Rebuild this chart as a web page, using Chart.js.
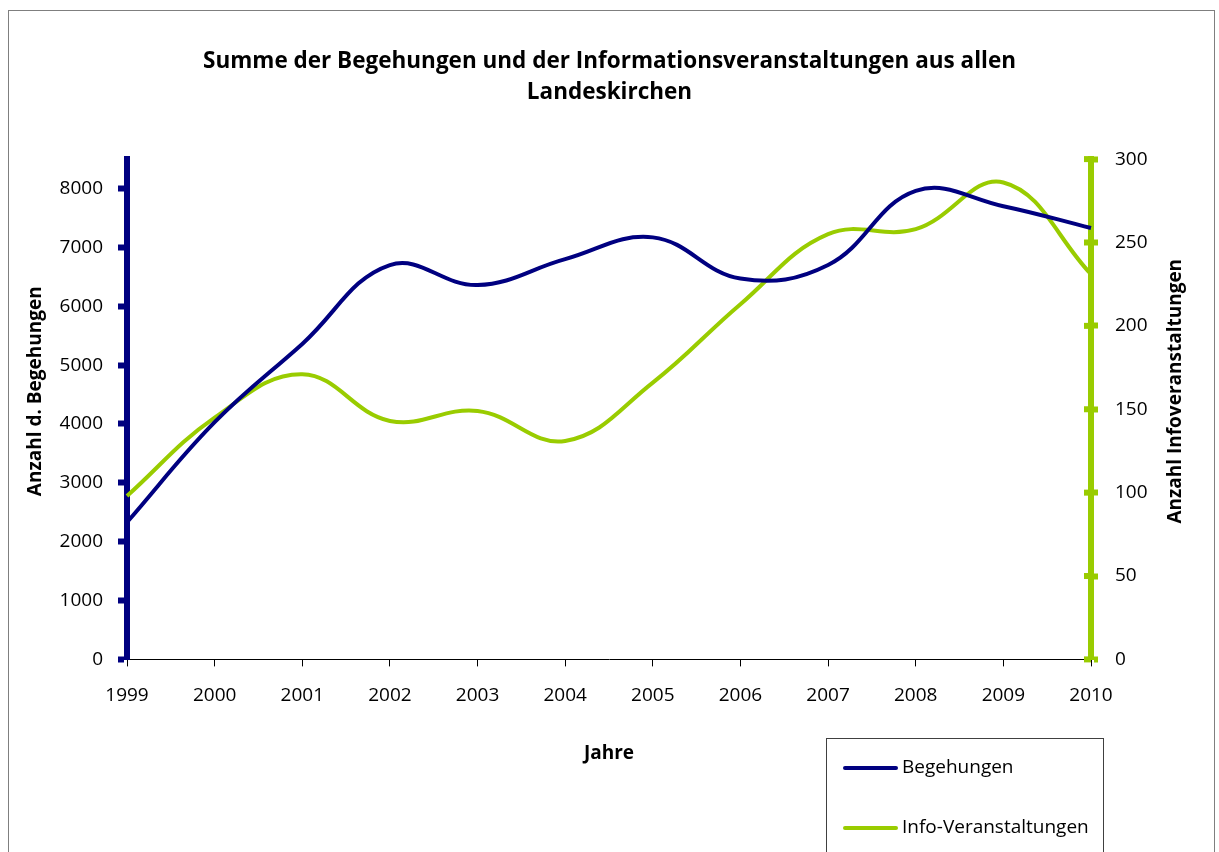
<!DOCTYPE html>
<html>
<head>
<meta charset="utf-8">
<script src="https://cdn.jsdelivr.net/npm/chart.js@4.4.1/dist/chart.umd.min.js"></script>
<style>
    html, body { margin: 0; padding: 0; background: #fff; overflow: hidden; }
    #wrap { position: relative; width: 1219px; height: 852px; }
    #frame { position: absolute; left: 8px; top: 10px; width: 1205px; height: 900px; border: 1px solid #7f7f7f; pointer-events: none; }
</style>
</head>
<body>
<div id="wrap">
    <canvas id="chart" width="1219" height="852"></canvas>
    <div id="frame"></div>
</div>
<script>
// --- Daten ---
const jahre = ['1999', '2000', '2001', '2002', '2003', '2004', '2005', '2006', '2007', '2008', '2009', '2010'];
const begehungen = [2330, 4030, 5360, 6700, 6360, 6800, 7170, 6470, 6700, 7960, 7700, 7330];
const infoVeranstaltungen = [98, 145, 171, 143, 149, 131, 166, 213, 255, 258, 286, 231];
const linksTicks = [0, 1000, 2000, 3000, 4000, 5000, 6000, 7000, 8000];
const rechtsTicks = [0, 50, 100, 150, 200, 250, 300];
const titelLinks = 'Anzahl d. Begehungen';
const titelRechts = 'Anzahl Infoveranstaltungen';

const BLAU = '#000080';
const GRUEN = '#99cc00';
const FONT = 'Open Sans';

// --- Achsentitel (beide von unten nach oben gelesen) ---
const achsenTitel = {
    id: 'achsenTitel',
    afterDraw(chart) {
        const ctx = chart.ctx;
        const mitte = chart.chartArea.top + (chart.chartArea.bottom - chart.chartArea.top) / 2 - 18;
        ctx.save();
        ctx.font = 'bold 19px "' + FONT + '"';
        ctx.fillStyle = '#000';
        ctx.textAlign = 'center';
        ctx.textBaseline = 'middle';
        [[titelLinks, 36], [titelRechts, 1176]].forEach(([txt, x]) => {
            ctx.save();
            ctx.translate(x, mitte);
            ctx.rotate(-Math.PI / 2);
            ctx.fillText(txt, 0, 0);
            ctx.restore();
        });
        ctx.restore();
    }
};

// --- Legende im Kasten unten rechts ---
const boxLegend = {
    id: 'boxLegend',
    afterDraw(chart) {
        const ctx = chart.ctx;
        ctx.save();
        ctx.strokeStyle = '#404040';
        ctx.lineWidth = 1;
        ctx.strokeRect(826.5, 738.5, 277, 140);
        ctx.font = '19px "' + FONT + '"';
        ctx.textBaseline = 'middle';
        ctx.fillStyle = '#000';
        chart.data.datasets.forEach((ds, i) => {
            const y = 768 + i * 60;
            ctx.strokeStyle = ds.borderColor;
            ctx.lineWidth = 4;
            ctx.lineCap = 'round';
            ctx.beginPath();
            ctx.moveTo(845, y);
            ctx.lineTo(896, y);
            ctx.stroke();
            ctx.fillText(ds.label, 902, y);
        });
        ctx.restore();
    }
};

// --- Innere Hälfte der Striche an der rechten Achse ---
const innerTicks = {
    id: 'innerTicks',
    afterDatasetsDraw(chart) {
        const sc = chart.scales.y2;
        const ctx = chart.ctx;
        ctx.save();
        ctx.fillStyle = GRUEN;
        sc.ticks.forEach(t => {
            const y = sc.getPixelForValue(t.value);
            ctx.fillRect(sc.left - 7, y - 3, 7, 6);
        });
        ctx.restore();
    }
};

const ctx = document.getElementById('chart').getContext('2d');
new Chart(ctx, {
    type: 'line',
    data: {
        labels: jahre,
        datasets: [
            { label: 'Begehungen', data: begehungen, yAxisID: 'y', borderColor: BLAU, borderWidth: 4, tension: 0.4, pointRadius: 0, fill: false },
            { label: 'Info-Veranstaltungen', data: infoVeranstaltungen, yAxisID: 'y2', borderColor: GRUEN, borderWidth: 4, tension: 0.4, pointRadius: 0, fill: false }
        ]
    },
    options: {
        responsive: false,
        animation: false,
        layout: { padding: { left: 0, right: 0, top: 0, bottom: 87 } },
        plugins: {
            legend: { display: false },
            tooltip: { enabled: false },
            title: {
                display: true,
                text: ['Summe der Begehungen und der Informationsveranstaltungen aus allen', 'Landeskirchen'],
                color: '#000',
                font: { family: FONT, size: 22.5, weight: 'bold', lineHeight: 1.38 },
                padding: { top: 46, bottom: 51 }
            }
        },
        scales: {
            x: {
                offset: false,
                grid: { drawOnChartArea: false, color: '#000', tickLength: 7, lineWidth: 1 },
                border: { color: '#000', width: 1 },
                ticks: { color: '#000', font: { family: FONT, size: 19 }, padding: 18, maxRotation: 0, autoSkip: false },
                title: { display: true, text: 'Jahre', color: '#000', font: { family: FONT, size: 19, weight: 'bold' }, padding: { top: 17, bottom: 0 } }
            },
            y: {
                position: 'left',
                min: 0,
                max: 8500,
                afterBuildTicks: sc => { sc.ticks = linksTicks.map(v => ({ value: v })); },
                afterFit: sc => { sc.width = 127; },
                grid: { drawOnChartArea: false, tickColor: BLAU, tickWidth: 6, tickLength: 9 },
                border: { color: BLAU, width: 6 },
                ticks: { color: '#000', font: { family: FONT, size: 19 }, padding: 15, callback: v => String(v) }
            },
            y2: {
                position: 'right',
                min: 0,
                max: 300,
                afterBuildTicks: sc => { sc.ticks = rechtsTicks.map(v => ({ value: v })); },
                afterFit: sc => { sc.width = 128; },
                grid: { drawOnChartArea: false, tickColor: GRUEN, tickWidth: 6, tickLength: 7 },
                border: { color: GRUEN, width: 6 },
                ticks: { color: '#000', font: { family: FONT, size: 19 }, padding: 17, callback: v => String(v) }
            }
        }
    },
    plugins: [achsenTitel, boxLegend, innerTicks]
});
</script>
</body>
</html>
